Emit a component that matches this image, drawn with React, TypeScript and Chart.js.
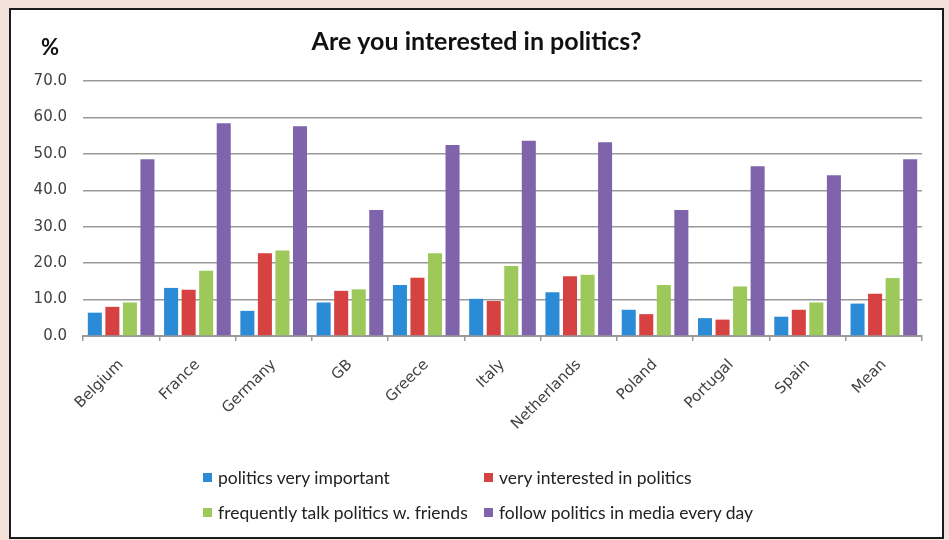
import React, { useEffect, useRef } from "react";
import { Chart, registerables } from "chart.js";

Chart.register(...registerables);

const categories = ["Belgium", "France", "Germany", "GB", "Greece", "Italy", "Netherlands", "Poland", "Portugal", "Spain", "Mean"];
const veryImportant = [6.4, 13.2, 6.9, 9.2, 14.0, 10.2, 12.0, 7.2, 4.9, 5.3, 8.9];
const veryInterested = [8.0, 12.7, 22.7, 12.4, 16.0, 9.6, 16.4, 6.0, 4.5, 7.2, 11.6];
const talkFriends = [9.2, 17.9, 23.5, 12.8, 22.7, 19.2, 16.8, 14.0, 13.6, 9.2, 15.9];
const followMedia = [48.5, 58.4, 57.6, 34.6, 52.4, 53.6, 53.2, 34.6, 46.6, 44.1, 48.5];

const seriesLabels = [
  "politics very important",
  "very interested in politics",
  "frequently talk politics w. friends",
  "follow politics in media every day",
];
const seriesColors = ["#2b8bd6", "#d64141", "#9cc95a", "#7f64ab"];
const seriesValues = [veryImportant, veryInterested, talkFriends, followMedia];

const titleText = "Are you interested in politics?";
const unitText = "%";

const unitPlugin = {
  id: "unitLabel",
  afterDraw(chart: any) {
    const ctx = chart.ctx;
    ctx.save();
    ctx.font = "bold 22px Lato";
    ctx.fillStyle = "#111";
    ctx.textAlign = "center";
    ctx.textBaseline = "middle";
    ctx.fillText(unitText, 39, 38);
    ctx.restore();
  },
};

export default function App() {
  const ref = useRef<HTMLCanvasElement | null>(null);

  useEffect(() => {
    if (!ref.current) return;
    const chart = new Chart(ref.current, {
      type: "bar",
      data: {
        labels: categories,
        datasets: seriesValues.map((vals, i) => ({
          label: seriesLabels[i],
          data: vals,
          backgroundColor: seriesColors[i],
          borderWidth: 0,
          barPercentage: 0.8,
          categoryPercentage: 0.92,
        })),
      },
      options: {
        animation: false,
        responsive: false,
        maintainAspectRatio: false,
        layout: { padding: { left: 20, right: 20, top: 0, bottom: 0 } },
        plugins: {
          legend: { display: false },
          tooltip: { enabled: false },
          title: {
            display: true,
            text: titleText,
            color: "#111",
            font: { family: "Lato", size: 25, weight: "bold" },
            padding: { top: 17, bottom: 24 },
          },
        },
        scales: {
          x: {
            grid: {
              display: true,
              drawOnChartArea: false,
              drawTicks: true,
              tickLength: 5,
              color: "#999",
              lineWidth: 1.5,
            },
            border: { display: true, color: "#999", width: 2 },
            ticks: {
              color: "#404040",
              font: { family: "DejaVu Sans", size: 15 },
              minRotation: 45,
              maxRotation: 45,
              padding: 15,
              autoSkip: false,
            },
            afterFit(scale: any) {
              scale.height = 201;
            },
          },
          y: {
            min: 0,
            max: 70,
            grid: { color: "#999", lineWidth: 1.5, drawTicks: false },
            border: { display: false },
            ticks: {
              stepSize: 10,
              padding: 16,
              color: "#404040",
              font: { family: "DejaVu Sans", size: 15 },
              callback: (v: any) => Number(v).toFixed(1),
            },
            afterFit(scale: any) {
              scale.width = 52;
            },
          },
        },
      },
      plugins: [unitPlugin],
    });
    return () => chart.destroy();
  }, []);

  return (
    <div style={{ position: "fixed", left: 0, top: 0, width: 949, height: 540, background: "#f4e1d9", overflow: "hidden" }}>
      <div
        style={{
          position: "absolute",
          left: 9,
          top: 8,
          width: 931,
          height: 527,
          border: "2px solid #1c1c1c",
          background: "#fff",
        }}
      >
        <canvas ref={ref} width={931} height={527} style={{ display: "block", width: 931, height: 527 }} />
      </div>
      {seriesLabels.map((label, i) => (
        <div
          key={label}
          style={{
            position: "absolute",
            left: i % 2 === 0 ? 203 : 484,
            top: i < 2 ? 467 : 502,
            height: 20,
            display: "flex",
            alignItems: "center",
            fontFamily: "Lato",
            fontSize: 17.5,
            color: "#222",
            whiteSpace: "nowrap",
          }}
        >
          <span style={{ display: "inline-block", width: 9, height: 9, background: seriesColors[i], marginRight: 6 }} />
          {label}
        </div>
      ))}
    </div>
  );
}
